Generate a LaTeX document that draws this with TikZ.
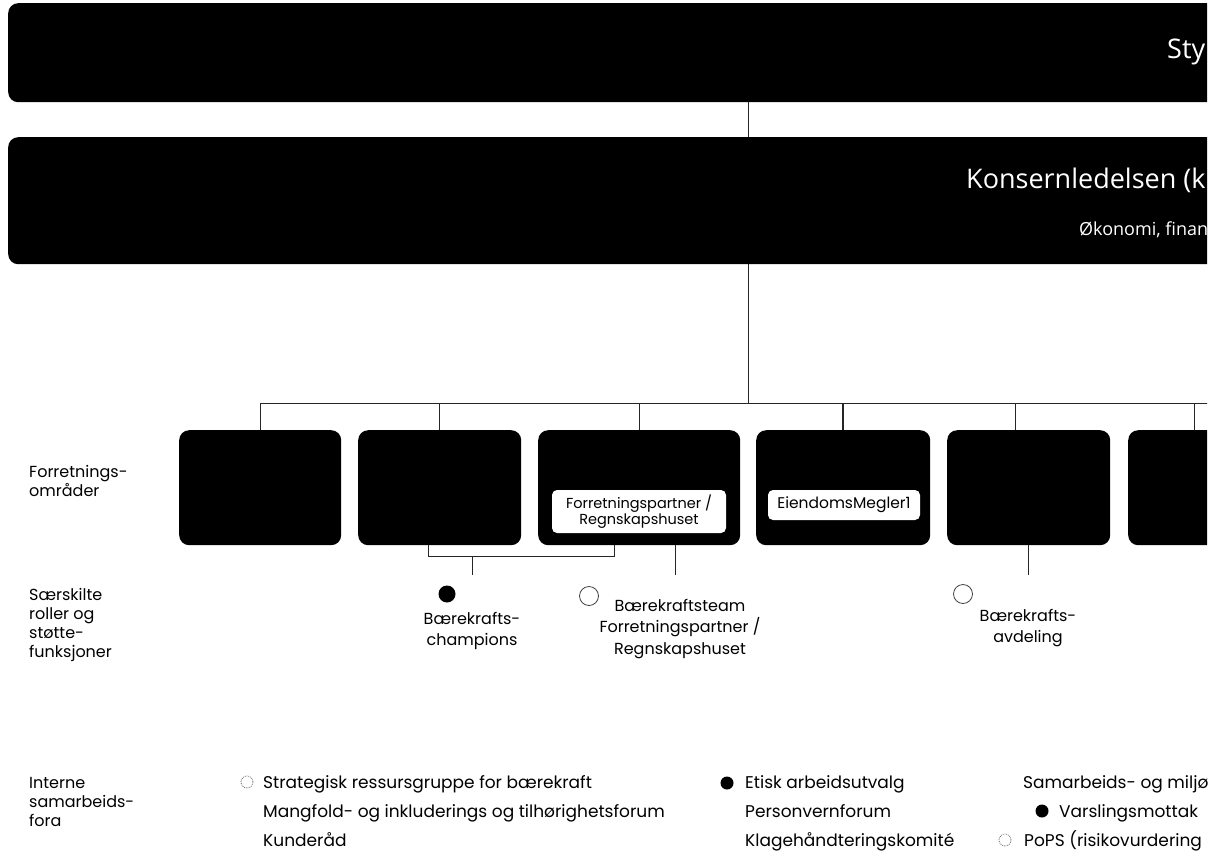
\documentclass[tikz,border=0pt]{standalone}
\usepackage{fontspec}
\setmainfont{Poppins}
\newfontfamily\barfont{Open Sans}
\newcommand{\lblfont}{\fontsize{16}{19}\selectfont}
\newcommand{\itemfont}{\fontsize{17}{20}\selectfont}
\newcommand{\rolefont}{\fontsize{16}{21.5}\selectfont}
\newcommand{\tagfont}{\fontsize{14.5}{16.5}\selectfont}

\tikzset{
  bar/.style={fill=black, rounded corners=10pt, inner sep=0pt, anchor=north west},
  bartext/.style={anchor=west, inner sep=0pt, text=white, font=\barfont\fontsize{#1}{#1}\selectfont},
  area/.style={fill=black, rounded corners=10pt, inner sep=0pt, anchor=north west, minimum height=115pt},
  tag/.style={fill=white, rounded corners=5pt, inner sep=0pt, font=\tagfont, align=center},
  lbl/.style={anchor=north west, inner sep=0pt, align=left, font=\lblfont},
  role/.style={anchor=north, inner sep=0pt, align=center, font=\rolefont},
  item/.style={anchor=base west, inner sep=0pt, font=\itemfont},
  link/.style={draw=black!85, line width=0.9pt},
  dot/.style={circle, fill=black, inner sep=0pt, minimum size=#1},
  ring/.style={circle, draw=black!75, line width=0.8pt, inner sep=0pt, minimum size=19pt},
  faint/.style={circle, draw=black!60, densely dotted, line width=0.8pt, inner sep=0pt, minimum size=12pt}
}

\begin{document}
\begin{tikzpicture}[x=1pt,y=1pt,yscale=-1,xscale=1]
\useasboundingbox (0,0) rectangle (1221,852);
\begin{scope}
\clip (0,0) rectangle (1207,852);

% Bars
\node[bar, minimum width=1392pt, minimum height=99pt] (styr) at (8,3) {};
\node[bar, minimum width=1392pt, minimum height=127pt] (kl) at (8,137) {};
% Text Node
\node[bartext=27] (styrtxt) at (1167,52) {Sty};
\node[bartext=27] (kltxt) at (966,180) {Konsernledelsen (k};
\node[bartext=18] (kltxt2) at (1079,230) {Økonomi, finan};

% Business areas
\node[area, minimum width=162pt] (b1) at (179,430) {};
\node[area, minimum width=163pt] (b2) at (358,430) {};
\node[area, minimum width=202pt] (b3) at (538,430) {};
\node[area, minimum width=174pt] (b4) at (756,430) {};
\node[area, minimum width=163pt] (b5) at (947,430) {};
\node[area, minimum width=172pt] (b6) at (1128,430) {};
\node[tag, minimum width=174pt, minimum height=43pt] (fp) at (639,511.5) {Forretningspartner /\\Regnskapshuset};
\node[tag, minimum width=152pt, minimum height=30pt, font=\fontsize{15.5}{17}\selectfont] (em) at (844,505) {EiendomsMegler1};

%Straight Lines
\coordinate (bus) at (748,403);
\coordinate (busend) at (1300,403);
\draw[link] (styr.south -| bus) -- (kl.north -| bus);
\draw[link] (kl.south -| bus) -- (bus);
\draw[link] (b1.north |- bus) -- (busend);
\draw[link] (b1.north |- bus) -- (b1.north);
\draw[link] (b2.north |- bus) -- (b2.north);
\draw[link] (b3.north |- bus) -- (b3.north);
\draw[link, line width=1.8pt] (b4.north |- bus) -- (b4.north);
\draw[link] ([xshift=-13pt]b5.north |- bus) -- ([xshift=-13pt]b5.north);
\draw[link] ([xshift=-20pt]b6.north |- bus) -- ([xshift=-20pt]b6.north);

%Straight Lines
\coordinate (brl) at (428,556);
\coordinate (brr) at (614,556);
\coordinate (brm) at (472,556);
\coordinate (chp) at (472,575);
\coordinate (bst) at (675,575);
\coordinate (avd) at (1028,575);
\draw[link] (b2.south -| brl) -- (brl) -- (brr) -- (b3.south -| brr);
\draw[link] (brm) -- (chp);
\draw[link] (b3.south -| bst) -- (bst);
\draw[link] (b5.south -| avd) -- (avd);

% Roles
\node[dot=17pt] (d1) at (447,594) {};
\node[ring] (r1) at (589,596) {};
\node[ring] (r2) at (963,594) {};
\node[role] (champ) at (472,612) {Bærekrafts-\\champions};
\node[role] (team) at (680,599) {Bærekraftsteam\\Forretningspartner /\\Regnskapshuset};
\node[role] (avdtxt) at (1028,609) {Bærekrafts-\\avdeling};

% Row labels
\node[lbl] (rad1) at (29,465) {Forretnings-\\områder};
\node[lbl] (rad2) at (29,588) {Særskilte\\roller og\\støtte-\\funksjoner};
\node[lbl] (rad3) at (29,777) {Interne\\samarbeids-\\fora};

% Forums
\node[faint] (f1) at (247,782) {};
\node[item] (s1) at (263,788) {Strategisk ressursgruppe for bærekraft};
\node[item] (s2) at (263,817) {Mangfold- og inkluderings og tilhørighetsforum};
\node[item] (s3) at (263,846) {Kunderåd};
\node[dot=13pt] (f2) at (727,783) {};
\node[item] (s4) at (745,788) {Etisk arbeidsutvalg};
\node[item] (s5) at (745,817) {Personvernforum};
\node[item] (s6) at (745,846) {Klagehåndteringskomité};
\node[item] (s7) at (1023,788) {Samarbeids- og miljøu};
\node[dot=13pt] (f3) at (1042,811) {};
\node[item] (s8) at (1059,817) {Varslingsmottak};
\node[faint] (f4) at (1005,840) {};
\node[item] (s9) at (1024,846) {PoPS (risikovurdering};
\end{scope}
\end{tikzpicture}
\end{document}
